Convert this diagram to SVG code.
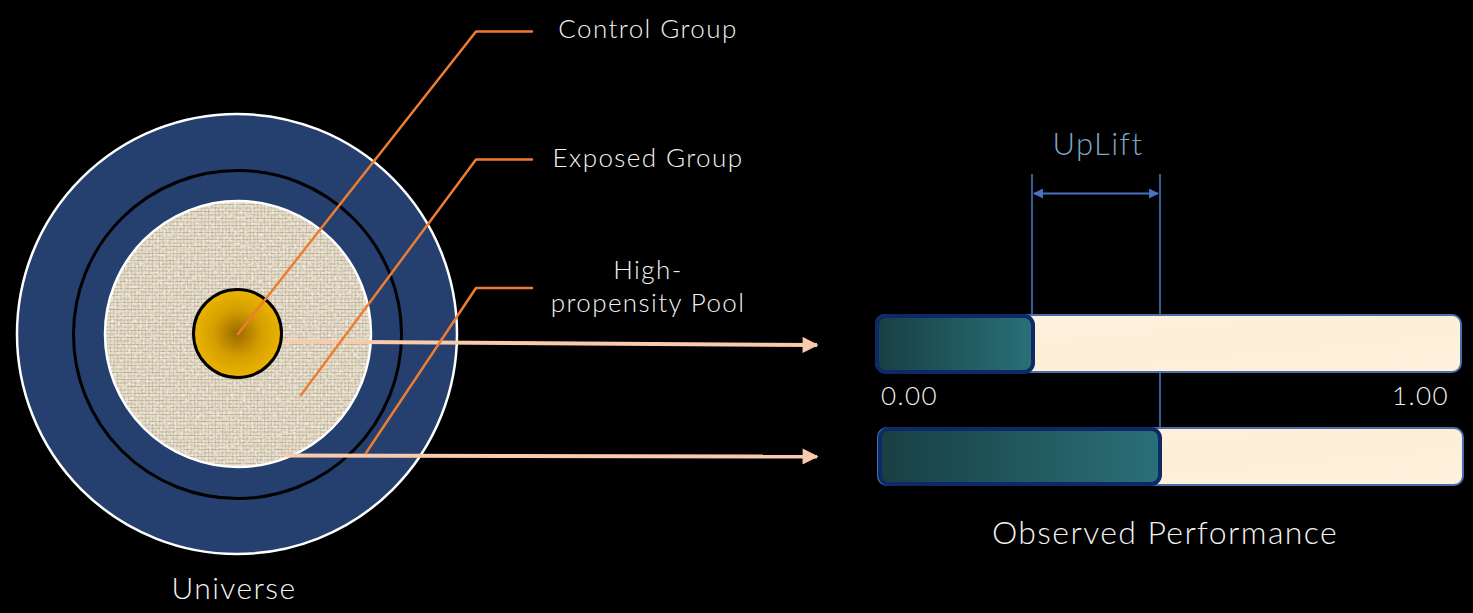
<svg xmlns="http://www.w3.org/2000/svg" width="1473" height="613" viewBox="0 0 1473 613">
  <style>
    .lbl { font-family: "Lato", "Open Sans", "Liberation Sans", sans-serif; font-weight: 300; fill: #f2f2f2; letter-spacing: 1.4px; }
    .leader { fill: none; stroke: #ED7D31; stroke-width: 2.5; stroke-linejoin: round; stroke-linecap: round; }
    .flow { fill: none; stroke: #F8CBAD; stroke-width: 4; marker-end: url(#peachHead); }
    .guide { stroke: #4A72C0; stroke-width: 1.6; }
    .track { fill: url(#cream); stroke: #4A6FA8; stroke-width: 2; }
    .fill { fill: url(#teal); stroke: #0D2A66; stroke-width: 4; }
  </style>
  <defs>
    <radialGradient id="gold" cx="0.5" cy="0.5" r="0.5">
      <stop offset="0" stop-color="#9C6A00"/>
      <stop offset="0.55" stop-color="#D59F00"/>
      <stop offset="1" stop-color="#EBB400"/>
    </radialGradient>
    <linearGradient id="teal" x1="0" y1="0" x2="1" y2="0">
      <stop offset="0" stop-color="#183F43"/>
      <stop offset="1" stop-color="#2A7078"/>
    </linearGradient>
    <linearGradient id="cream" x1="0" y1="0" x2="1" y2="1">
      <stop offset="0" stop-color="#FFF3DF"/>
      <stop offset="0.5" stop-color="#FBEFD8"/>
      <stop offset="1" stop-color="#FFF2DC"/>
    </linearGradient>
    <!-- woven linen texture for the pool disc -->
    <pattern id="linen" width="7" height="7" patternUnits="userSpaceOnUse">
      <rect width="7" height="7" fill="#E6DCC6"/>
      <path d="M0 1.5H7M0 5H7" stroke="#9E937F" stroke-width="0.7" opacity="0.75"/>
      <path d="M2 0V7M5.5 0V7" stroke="#A89D89" stroke-width="0.6" opacity="0.65"/>
    </pattern>
    <filter id="grain" x="0" y="0" width="1" height="1">
      <feTurbulence type="fractalNoise" baseFrequency="0.35" numOctaves="3" seed="7" result="n"/>
      <feColorMatrix in="n" type="matrix" values="0 0 0 0 0.93  0 0 0 0 0.9  0 0 0 0 0.82  0 0 0 2.2 -1.05" result="g"/>
      <feComposite in="g" in2="SourceGraphic" operator="in" result="gm"/>
      <feMerge><feMergeNode in="SourceGraphic"/><feMergeNode in="gm"/></feMerge>
    </filter>
    <marker id="peachHead" viewBox="0 0 10 10" refX="9" refY="5" markerWidth="4.2" markerHeight="4" orient="auto" markerUnits="strokeWidth">
      <path d="M0 0L10 5L0 10Z" fill="#F8CBAD"/>
    </marker>
    <marker id="blueHead" viewBox="0 0 10 10" refX="9" refY="5" markerWidth="11" markerHeight="10" orient="auto-start-reverse" markerUnits="userSpaceOnUse">
      <path d="M0 0L10 5L0 10Z" fill="#4A72C0"/>
    </marker>
  </defs>

  <rect width="1473" height="613" fill="#000"/>

  <!-- concentric population circles -->
  <g id="universe">
    <circle cx="237" cy="334" r="220" fill="#253F6E" stroke="#FFFFFF" stroke-width="2.5"/>
    <text class="lbl" x="234" y="599" font-size="30" text-anchor="middle">Universe</text>
  </g>
  <g id="exposed-ring">
    <circle cx="237.5" cy="334.5" r="164" fill="none" stroke="#000" stroke-width="3"/>
  </g>
  <g id="pool">
    <circle cx="238" cy="334" r="133" fill="url(#linen)" filter="url(#grain)"/>
    <circle cx="238" cy="334" r="133" fill="none" stroke="#FFFFFF" stroke-width="2.5"/>
  </g>
  <g id="control">
    <circle cx="237.5" cy="333.5" r="44" fill="url(#gold)" stroke="#000" stroke-width="3"/>
  </g>

  <!-- connectors -->
  <g id="connectors">
    <path class="flow" d="M283 341.5L817 345"/>
    <path class="flow" d="M284 455.5L817 456.5"/>
    <path class="leader" d="M238 334L476 31.5H532"/>
    <path class="leader" d="M301 395L476 159.5H532"/>
    <path class="leader" d="M366 453L476 288H532"/>
    <line class="guide" x1="1032" y1="174" x2="1032" y2="315"/>
    <line class="guide" x1="1160" y1="174" x2="1160" y2="428"/>
    <line x1="1034" y1="193.5" x2="1158" y2="193.5" stroke="#4A72C0" stroke-width="2" marker-start="url(#blueHead)" marker-end="url(#blueHead)"/>
  </g>

  <!-- callout labels -->
  <g id="label-control">
    <text class="lbl" x="648" y="38" font-size="26" text-anchor="middle">Control Group</text>
  </g>
  <g id="label-exposed">
    <text class="lbl" x="648" y="167" font-size="26" text-anchor="middle">Exposed Group</text>
  </g>
  <g id="label-pool">
    <text class="lbl" x="648" y="279" font-size="26" text-anchor="middle">High-</text>
    <text class="lbl" x="648" y="312" font-size="26" text-anchor="middle">propensity Pool</text>
  </g>

  <!-- performance bars -->
  <g id="bar-control">
    <rect class="track" x="876" y="315" width="585" height="57" rx="9"/>
    <rect class="fill" x="877" y="316" width="156" height="56" rx="9"/>
  </g>
  <g id="axis">
    <text class="lbl" x="881" y="405" font-size="26">0.00</text>
    <text class="lbl" x="1449" y="405" font-size="26" text-anchor="end">1.00</text>
  </g>
  <g id="bar-exposed">
    <rect class="track" x="878" y="428" width="585" height="57" rx="9"/>
    <rect class="fill" x="880" y="429" width="280" height="55" rx="9"/>
  </g>
  <g id="uplift">
    <text x="1098" y="155" font-size="31" text-anchor="middle" class="lbl" style="fill:#7FA7C2">UpLift</text>
  </g>
  <g id="performance-title">
    <text class="lbl" x="1165" y="544" font-size="32" text-anchor="middle">Observed Performance</text>
  </g>
</svg>
